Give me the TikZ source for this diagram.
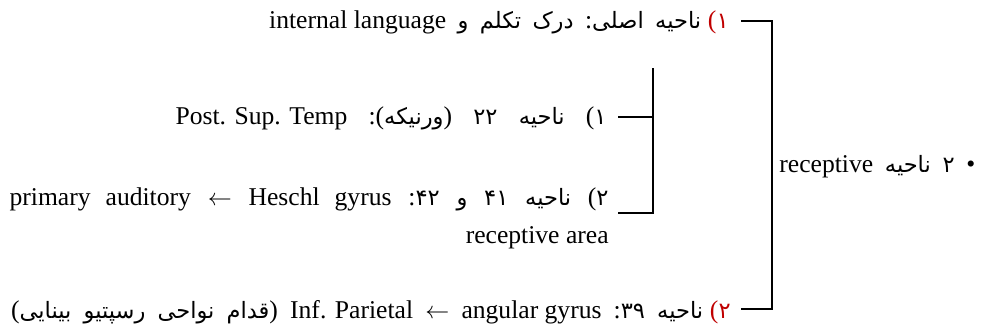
\documentclass[tikz,border=0pt]{standalone}
\usepackage{fontspec}
\setmainfont{Liberation Serif}
\newfontfamily\fa[Script=Arabic,Scale=0.88]{DejaVu Sans}
\TeXXeTstate=1
\definecolor{numred}{RGB}{192,0,0}
\newcommand{\lat}[1]{\beginL{\rmfamily #1}\endL}
\newcommand{\latbox}[1]{\hbox{\beginL\rmfamily #1\endL}}
\newcommand{\pnc}[1]{\hbox{\rmfamily #1}}

\begin{document}
\begin{tikzpicture}[x=0.5pt, y=-0.5pt,
  brk/.style={line width=1pt},
  txt/.style={inner sep=0pt, font=\fontsize{12.8}{15}\selectfont},
  num/.style={txt, text=numred}
]
\useasboundingbox (0,0) rectangle (986,332);
% bracket corners
\coordinate (otop) at (772,21);
\coordinate (obot) at (772,309);
\coordinate (o1) at (741,21);
\coordinate (o5) at (741,309);
\coordinate (itop) at (653,68);
\coordinate (imid) at (653,117);
\coordinate (ibot) at (653,213);
\coordinate (i2) at (618,117);
\coordinate (i3) at (618,213);
% outer lines, red numbers first
\node[num, anchor=base east] (n1) at (729,28) {\pnc{(}{\fa ۱}};
\node[txt, anchor=base east] (l1) at ([xshift=-3pt]n1.base west)
  {\hbox to 216pt{\fa\beginR ناحیه اصلی\pnc{:} درک تکلم و \latbox{internal language}\endR}};
\node[num, anchor=base east] (n5) at (731,318) {\pnc{(}{\fa ۲}};
\node[txt, anchor=base east] (l5) at ([xshift=-3pt]n5.base west)
  {\hbox to 346pt{\fa\beginR ناحیه ۳۹\pnc{:} \latbox{angular gyrus} $\leftarrow$ \latbox{Inf. Parietal} \pnc{)}قدام نواحی رسپتیو بینایی\pnc{(}\endR}};
% inner lines
\node[txt, anchor=base east] (l2) at (607,124)
  {\hbox to 215.5pt{\fa\beginR \hbox{\beginL\pnc{(}۱\endL} ناحیه ۲۲ \pnc{)}ورنیکه\hbox{\beginL\pnc{:}\pnc{(}\endL} \latbox{Post. Sup. Temp}\endR}};
\node[txt, anchor=base east] (l3) at (609,205)
  {\hbox to 299.5pt{\fa\beginR \hbox{\beginL\pnc{(}۲\endL} ناحیه ۴۱ و ۴۲\pnc{:} \lat{Heschl gyrus} $\leftarrow$ \lat{primary auditory}\endR}};
\node[txt, anchor=base east] (ra) at (609,243) {receptive area};
% right-hand item
\node[txt, anchor=base west] (rt) at (779,172)
  {\hbox to 98pt{\fa\beginR {\rmfamily •} ۲ ناحیه \lat{receptive}\endR}};
% brackets
\draw[brk] (o1) -- (otop) -- (obot) -- (o5);
\draw[brk] (itop) -- (ibot) -- (i3);
\draw[brk] (i2) -- (imid);
\end{tikzpicture}
\end{document}
